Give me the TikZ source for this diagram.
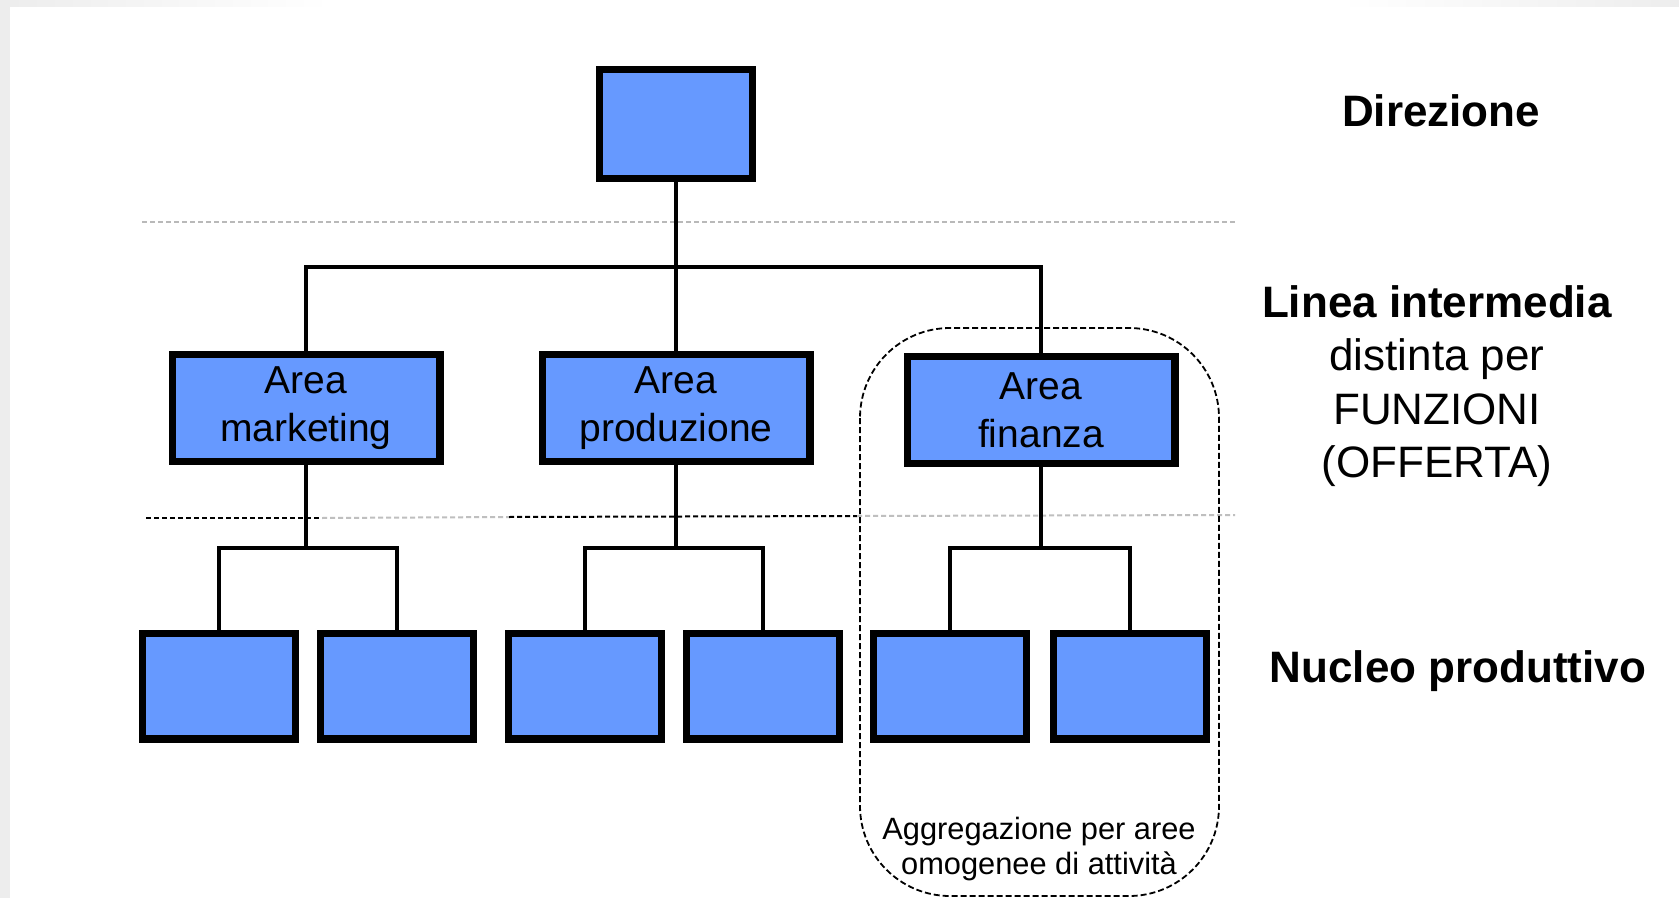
\documentclass[tikz,border=0pt]{standalone}
\usepackage{fontspec}
\setmainfont{Liberation Sans}
\begin{document}
\begin{tikzpicture}[x=0.5pt,y=-0.5pt,
  unit/.style={draw=black,line width=3.6pt,fill=boxblue,inner sep=0pt},
  topbox/.style={unit,minimum width=76.4pt,minimum height=54.4pt},
  areabox/.style={unit,minimum width=133.9pt,minimum height=53.4pt,align=center,font=\fontsize{19.5}{24}\selectfont},
  leafbox/.style={unit,minimum width=76.4pt,minimum height=52.9pt},
  conn/.style={line width=1.8pt,line cap=rect},
  sep/.style={line width=1pt,dash pattern=on 2.5pt off 1.5pt},
  lbl/.style={align=center,font=\fontsize{22}{26.75}\selectfont},
  lblb/.style={lbl,font=\fontsize{22}{26.75}\selectfont\bfseries}]
\definecolor{boxblue}{HTML}{6699FF}
\definecolor{stripgray}{HTML}{EDEDED}
% canvas
\fill[white] (0,0) rectangle (1679,898);
\useasboundingbox (0,0) rectangle (1679,898);
\fill[stripgray] (0,0) rectangle (10,898);
\shade[left color=stripgray,right color=white] (10,0) rectangle (330,7);
\shade[left color=white,right color=stripgray] (1340,0) rectangle (1679,7);
% separators
\draw[sep,gray!55] (142,222) -- (1235,222);
\draw[sep,black] (146,518) -- (322,518);
\draw[sep,gray!50] (322,518) -- (509,517);
\draw[sep,black] (509,517) -- (857,516);
\draw[sep,gray!50] (857,516) -- (1235,515);
% dashed group
\draw[line width=0.9pt,dash pattern=on 3pt off 1.5pt,rounded corners=45] (860,328) rectangle (1219,896);
% nodes
\node[topbox] (top) at (676,124) {};
\node[areabox] (mark) at (306,408) {Area\\marketing};
\node[areabox] (prod) at (676,408) {Area\\produzione};
\node[areabox] (fin) at (1041,410) {Area\\finanza};
\node[leafbox] (b1) at (219,686) {};
\node[leafbox] (b2) at (397,686) {};
\node[leafbox] (b3) at (585,686) {};
\node[leafbox] (b4) at (763,686) {};
\node[leafbox] (b5) at (950,686) {};
\node[leafbox] (b6) at (1130,686) {};
\coordinate (j0) at (676,267);
\coordinate (j1) at (306,548);
\coordinate (j2) at (676,548);
\coordinate (j3) at (1041,548);
% connectors
\draw[conn] (top.south) -- (prod.north);
\draw[conn] (mark.north) |- (j0) -| (fin.north);
\draw[conn] (mark.south) -- (j1);
\draw[conn] (b1.north) |- (j1) -| (b2.north);
\draw[conn] (prod.south) -- (j2);
\draw[conn] (b3.north) |- (j2) -| (b4.north);
\draw[conn] (fin.south) -- (j3);
\draw[conn] (b5.north) |- (j3) -| (b6.north);
% labels
\node[lblb] (dir) at (1441,111) {Direzione};
\node[lbl] (linea) at (1437,386) {\textbf{Linea intermedia}\\distinta per\\FUNZIONI\\(OFFERTA)};
\node[lblb] (nucleo) at (1458,671) {Nucleo produttivo};
\node[align=center,font=\fontsize{15.4}{17.7}\selectfont] (aggr) at (1039,849) {Aggregazione per aree\\omogenee di attività};
\end{tikzpicture}
\end{document}
